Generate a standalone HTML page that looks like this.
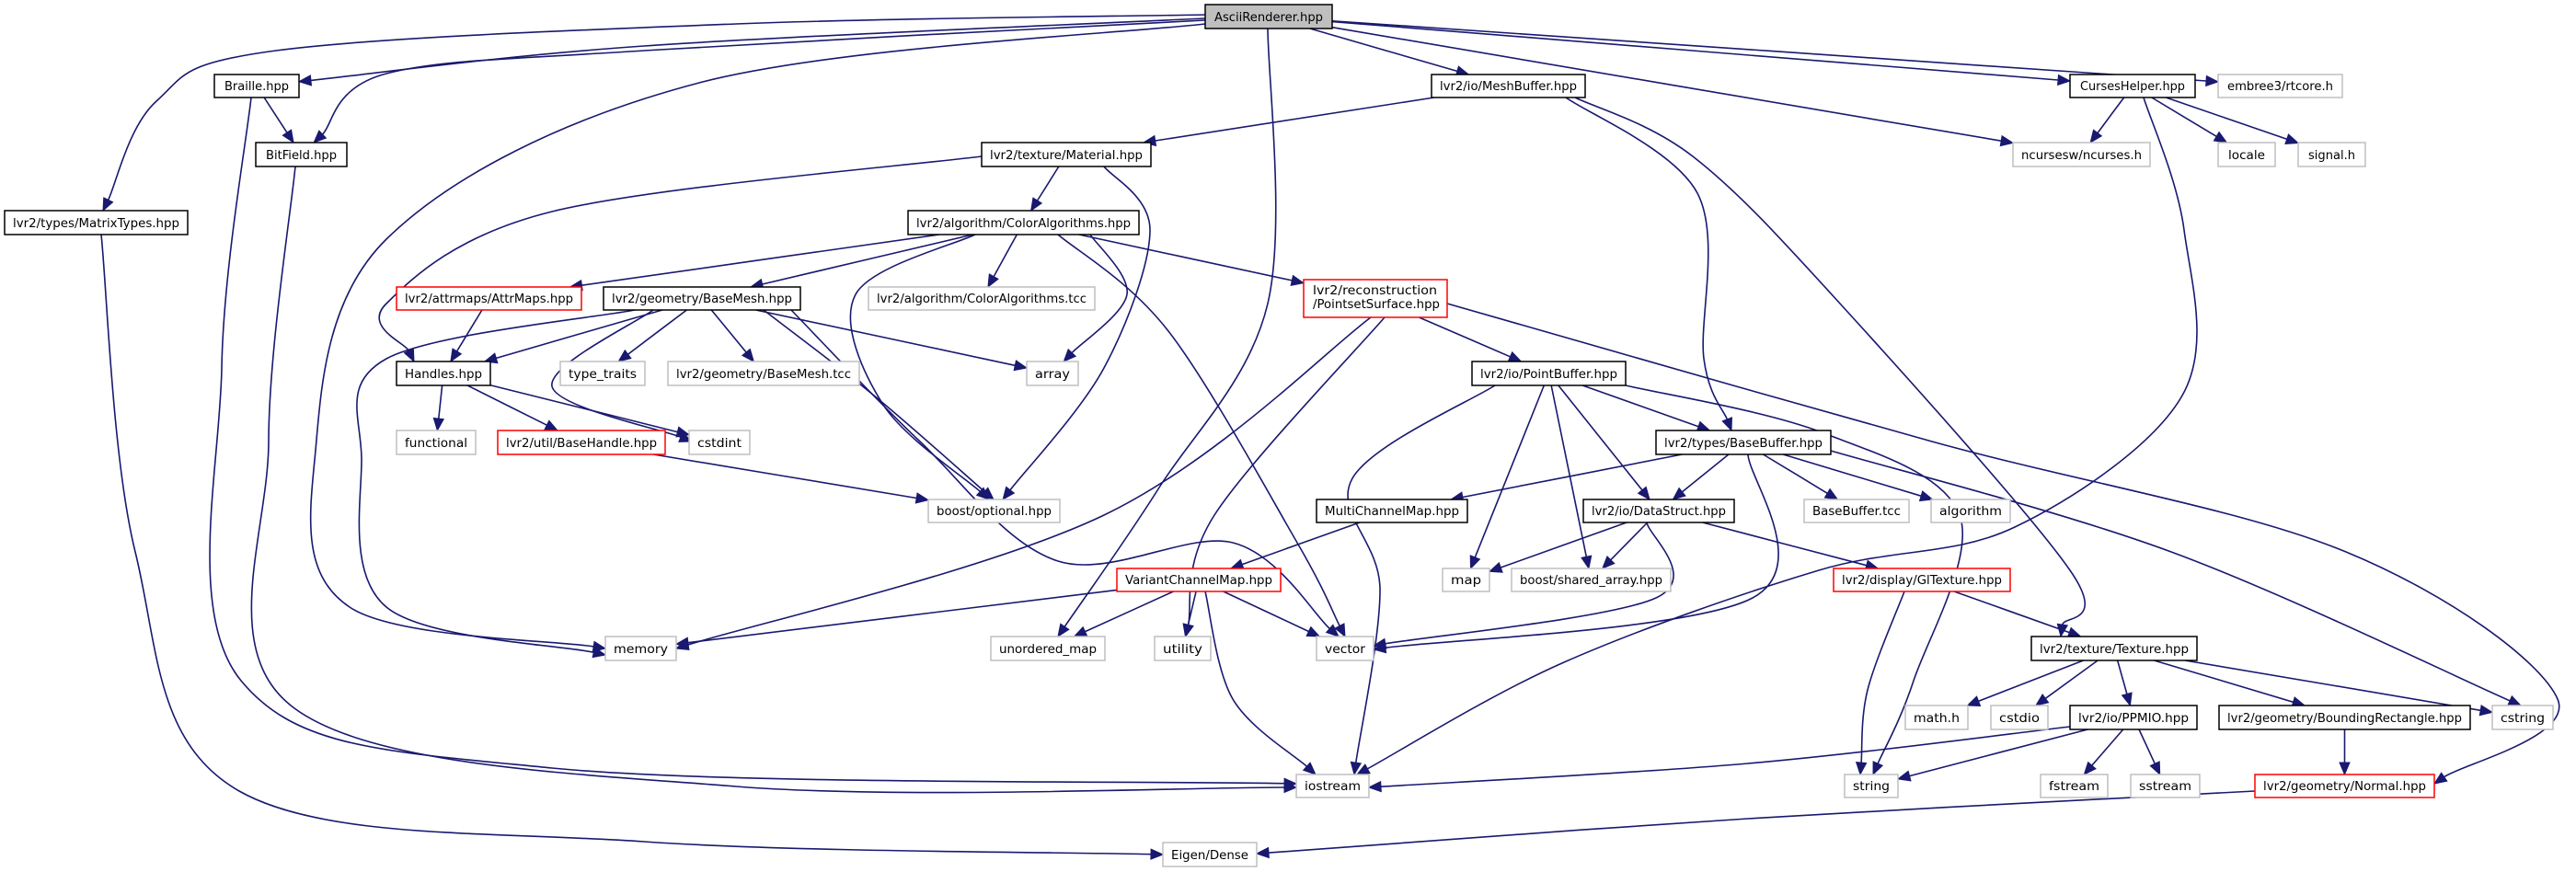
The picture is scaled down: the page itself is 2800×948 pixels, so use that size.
<!DOCTYPE html>
<html><head><meta charset="utf-8"><style>
html,body{margin:0;padding:0;background:#fff;}
svg{display:block;}
text{font-family:"DejaVu Sans","Liberation Sans",sans-serif;font-size:13px;fill:#000;}
</style></head><body>
<svg id="g" width="2800" height="948" viewBox="0 0 2800 948" xmlns="http://www.w3.org/2000/svg">
<g id="edges"></g>
<g id="nodes" stroke-width="1.5">
<rect x="1310" y="5" width="138" height="26" fill="#bfbfbf" stroke="#000"/><text x="1320" y="23" textLength="118" lengthAdjust="spacingAndGlyphs">AsciiRenderer.hpp</text>
<rect x="233" y="81" width="92" height="25" fill="#fff" stroke="#000"/><text x="244" y="98" textLength="70" lengthAdjust="spacingAndGlyphs">Braille.hpp</text>
<rect x="278" y="155" width="99" height="26" fill="#fff" stroke="#000"/><text x="289" y="173" textLength="77" lengthAdjust="spacingAndGlyphs">BitField.hpp</text>
<rect x="5" y="229" width="199" height="26" fill="#fff" stroke="#000"/><text x="14" y="247" textLength="181" lengthAdjust="spacingAndGlyphs">lvr2/types/MatrixTypes.hpp</text>
<rect x="1556" y="81" width="167" height="25" fill="#fff" stroke="#000"/><text x="1565" y="98" textLength="149" lengthAdjust="spacingAndGlyphs">lvr2/io/MeshBuffer.hpp</text>
<rect x="2250" y="81" width="136" height="25" fill="#fff" stroke="#000"/><text x="2261" y="98" textLength="114" lengthAdjust="spacingAndGlyphs">CursesHelper.hpp</text>
<rect x="2411" y="81" width="135" height="25" fill="#fff" stroke="#bfbfbf"/><text x="2421" y="98" textLength="115" lengthAdjust="spacingAndGlyphs">embree3/rtcore.h</text>
<rect x="1067" y="155" width="184" height="26" fill="#fff" stroke="#000"/><text x="1076" y="173" textLength="166" lengthAdjust="spacingAndGlyphs">lvr2/texture/Material.hpp</text>
<rect x="2188" y="155" width="149" height="26" fill="#fff" stroke="#bfbfbf"/><text x="2197" y="173" textLength="131" lengthAdjust="spacingAndGlyphs">ncursesw/ncurses.h</text>
<rect x="2411" y="155" width="62" height="26" fill="#fff" stroke="#bfbfbf"/><text x="2422" y="173" textLength="40" lengthAdjust="spacingAndGlyphs">locale</text>
<rect x="2498" y="155" width="73" height="26" fill="#fff" stroke="#bfbfbf"/><text x="2509" y="173" textLength="51" lengthAdjust="spacingAndGlyphs">signal.h</text>
<rect x="987" y="229" width="251" height="26" fill="#fff" stroke="#000"/><text x="996" y="247" textLength="233" lengthAdjust="spacingAndGlyphs">lvr2/algorithm/ColorAlgorithms.hpp</text>
<rect x="431" y="312" width="201" height="25" fill="#fff" stroke="#ff0000"/><text x="440" y="329" textLength="183" lengthAdjust="spacingAndGlyphs">lvr2/attrmaps/AttrMaps.hpp</text>
<rect x="656" y="312" width="214" height="25" fill="#fff" stroke="#000"/><text x="665" y="329" textLength="196" lengthAdjust="spacingAndGlyphs">lvr2/geometry/BaseMesh.hpp</text>
<rect x="944" y="312" width="246" height="25" fill="#fff" stroke="#bfbfbf"/><text x="953" y="329" textLength="228" lengthAdjust="spacingAndGlyphs">lvr2/algorithm/ColorAlgorithms.tcc</text>
<rect x="1417" y="304" width="156" height="41" fill="#fff" stroke="#ff0000"/><text x="1427" y="320" textLength="135" lengthAdjust="spacingAndGlyphs">lvr2/reconstruction</text><text x="1427" y="335" textLength="138" lengthAdjust="spacingAndGlyphs">/PointsetSurface.hpp</text>
<rect x="431" y="393" width="102" height="26" fill="#fff" stroke="#000"/><text x="440" y="411" textLength="84" lengthAdjust="spacingAndGlyphs">Handles.hpp</text>
<rect x="609" y="393" width="92" height="26" fill="#fff" stroke="#bfbfbf"/><text x="618" y="411" textLength="74" lengthAdjust="spacingAndGlyphs">type_traits</text>
<rect x="726" y="393" width="208" height="26" fill="#fff" stroke="#bfbfbf"/><text x="735" y="411" textLength="190" lengthAdjust="spacingAndGlyphs">lvr2/geometry/BaseMesh.tcc</text>
<rect x="1116" y="393" width="56" height="26" fill="#fff" stroke="#bfbfbf"/><text x="1125" y="411" textLength="38" lengthAdjust="spacingAndGlyphs">array</text>
<rect x="1600" y="393" width="167" height="26" fill="#fff" stroke="#000"/><text x="1609" y="411" textLength="149" lengthAdjust="spacingAndGlyphs">lvr2/io/PointBuffer.hpp</text>
<rect x="431" y="468" width="86" height="26" fill="#fff" stroke="#bfbfbf"/><text x="440" y="486" textLength="68" lengthAdjust="spacingAndGlyphs">functional</text>
<rect x="541" y="468" width="182" height="26" fill="#fff" stroke="#ff0000"/><text x="550" y="486" textLength="164" lengthAdjust="spacingAndGlyphs">lvr2/util/BaseHandle.hpp</text>
<rect x="749" y="468" width="66" height="26" fill="#fff" stroke="#bfbfbf"/><text x="758" y="486" textLength="48" lengthAdjust="spacingAndGlyphs">cstdint</text>
<rect x="1800" y="468" width="190" height="26" fill="#fff" stroke="#000"/><text x="1809" y="486" textLength="172" lengthAdjust="spacingAndGlyphs">lvr2/types/BaseBuffer.hpp</text>
<rect x="1009" y="543" width="143" height="25" fill="#fff" stroke="#bfbfbf"/><text x="1018" y="560" textLength="125" lengthAdjust="spacingAndGlyphs">boost/optional.hpp</text>
<rect x="1431" y="543" width="164" height="25" fill="#fff" stroke="#000"/><text x="1440" y="560" textLength="146" lengthAdjust="spacingAndGlyphs">MultiChannelMap.hpp</text>
<rect x="1721" y="543" width="164" height="25" fill="#fff" stroke="#000"/><text x="1730" y="560" textLength="146" lengthAdjust="spacingAndGlyphs">lvr2/io/DataStruct.hpp</text>
<rect x="1961" y="543" width="114" height="25" fill="#fff" stroke="#bfbfbf"/><text x="1970" y="560" textLength="96" lengthAdjust="spacingAndGlyphs">BaseBuffer.tcc</text>
<rect x="2099" y="543" width="86" height="25" fill="#fff" stroke="#bfbfbf"/><text x="2108" y="560" textLength="68" lengthAdjust="spacingAndGlyphs">algorithm</text>
<rect x="1214" y="618" width="178" height="25" fill="#fff" stroke="#ff0000"/><text x="1223" y="635" textLength="160" lengthAdjust="spacingAndGlyphs">VariantChannelMap.hpp</text>
<rect x="1568" y="618" width="51" height="25" fill="#fff" stroke="#bfbfbf"/><text x="1577" y="635" textLength="33" lengthAdjust="spacingAndGlyphs">map</text>
<rect x="1643" y="618" width="173" height="25" fill="#fff" stroke="#bfbfbf"/><text x="1652" y="635" textLength="155" lengthAdjust="spacingAndGlyphs">boost/shared_array.hpp</text>
<rect x="1993" y="618" width="192" height="25" fill="#fff" stroke="#ff0000"/><text x="2002" y="635" textLength="174" lengthAdjust="spacingAndGlyphs">lvr2/display/GlTexture.hpp</text>
<rect x="658" y="692" width="77" height="26" fill="#fff" stroke="#bfbfbf"/><text x="667" y="710" textLength="59" lengthAdjust="spacingAndGlyphs">memory</text>
<rect x="1077" y="692" width="124" height="26" fill="#fff" stroke="#bfbfbf"/><text x="1086" y="710" textLength="106" lengthAdjust="spacingAndGlyphs">unordered_map</text>
<rect x="1255" y="692" width="61" height="26" fill="#fff" stroke="#bfbfbf"/><text x="1264" y="710" textLength="43" lengthAdjust="spacingAndGlyphs">utility</text>
<rect x="1431" y="692" width="62" height="26" fill="#fff" stroke="#bfbfbf"/><text x="1440" y="710" textLength="44" lengthAdjust="spacingAndGlyphs">vector</text>
<rect x="2208" y="692" width="180" height="26" fill="#fff" stroke="#000"/><text x="2217" y="710" textLength="162" lengthAdjust="spacingAndGlyphs">lvr2/texture/Texture.hpp</text>
<rect x="2071" y="767" width="68" height="26" fill="#fff" stroke="#bfbfbf"/><text x="2080" y="785" textLength="50" lengthAdjust="spacingAndGlyphs">math.h</text>
<rect x="2164" y="767" width="62" height="26" fill="#fff" stroke="#bfbfbf"/><text x="2173" y="785" textLength="44" lengthAdjust="spacingAndGlyphs">cstdio</text>
<rect x="2250" y="767" width="138" height="26" fill="#fff" stroke="#000"/><text x="2259" y="785" textLength="120" lengthAdjust="spacingAndGlyphs">lvr2/io/PPMIO.hpp</text>
<rect x="2412" y="767" width="273" height="26" fill="#fff" stroke="#000"/><text x="2421" y="785" textLength="255" lengthAdjust="spacingAndGlyphs">lvr2/geometry/BoundingRectangle.hpp</text>
<rect x="2709" y="767" width="66" height="26" fill="#fff" stroke="#bfbfbf"/><text x="2718" y="785" textLength="48" lengthAdjust="spacingAndGlyphs">cstring</text>
<rect x="1409" y="842" width="79" height="25" fill="#fff" stroke="#bfbfbf"/><text x="1418" y="859" textLength="61" lengthAdjust="spacingAndGlyphs">iostream</text>
<rect x="2005" y="842" width="58" height="25" fill="#fff" stroke="#bfbfbf"/><text x="2014" y="859" textLength="40" lengthAdjust="spacingAndGlyphs">string</text>
<rect x="2218" y="842" width="73" height="25" fill="#fff" stroke="#bfbfbf"/><text x="2227" y="859" textLength="55" lengthAdjust="spacingAndGlyphs">fstream</text>
<rect x="2316" y="842" width="75" height="25" fill="#fff" stroke="#bfbfbf"/><text x="2325" y="859" textLength="57" lengthAdjust="spacingAndGlyphs">sstream</text>
<rect x="2451" y="842" width="195" height="25" fill="#fff" stroke="#ff0000"/><text x="2460" y="859" textLength="177" lengthAdjust="spacingAndGlyphs">lvr2/geometry/Normal.hpp</text>
<rect x="1264" y="916" width="102" height="26" fill="#fff" stroke="#bfbfbf"/><text x="1273" y="934" textLength="84" lengthAdjust="spacingAndGlyphs">Eigen/Dense</text>
</g>
</svg>
<script>
var N={
A:[1310,1448,5,31],Br:[233,325,81,106],BF:[278,377,155,181],MT:[5,204,229,255],MB:[1556,1723,81,106],
CH:[2250,2386,81,106],EM:[2411,2546,81,106],MA:[1067,1251,155,181],NC:[2188,2337,155,181],LO:[2411,2473,155,181],
SI:[2498,2571,155,181],CA:[987,1238,229,255],AM:[431,632,312,337],BM:[656,870,312,337],CT:[944,1190,312,337],
PS:[1417,1573,304,345],HA:[431,533,393,419],TT:[609,701,393,419],BT:[726,934,393,419],AR:[1116,1172,393,419],
PB:[1600,1767,393,419],FU:[431,517,468,494],BH:[541,723,468,494],CI:[749,815,468,494],BB:[1800,1990,468,494],
BO:[1009,1152,543,568],MC:[1431,1595,543,568],DS:[1721,1885,543,568],BTC:[1961,2075,543,568],AL:[2099,2185,543,568],
VC:[1214,1392,618,643],MP:[1568,1619,618,643],SA:[1643,1816,618,643],GT:[1993,2185,618,643],ME:[658,735,692,718],
UM:[1077,1201,692,718],UT:[1255,1316,692,718],VE:[1431,1493,692,718],TX:[2208,2388,692,718],MH:[2071,2139,767,793],
CS:[2164,2226,767,793],PP:[2250,2388,767,793],BR:[2412,2685,767,793],CSTR:[2709,2775,767,793],IO:[1409,1488,842,867],
ST:[2005,2063,842,867],FS:[2218,2291,842,867],SS:[2316,2391,842,867],NO:[2451,2646,842,867],EI:[1264,1366,916,942]};
var E=[
['A','Br',[[700,50]],[1310,20]],['A','BF',[[700,55],[420,80]],[1310,22]],
['A','MT',[[800,26],[300,55],[170,110]],[1310,16],[112,229]],
['A','ME',[[760,90],[420,260],[342,500],[380,660]],[1310,26],[658,705]],
['A','UM',[[1378,330],[1260,530]],[1378,31],[1150,692]],['A','MB'],['A','CH'],['A','EM'],['A','NC'],
['Br','BF'],['Br','IO',[[241,400],[262,740],[600,835]],[273,106],[1409,852]],
['BF','IO',[[292,480],[320,770],[800,855]],[321,181],[1409,856]],
['MT','EI',[[147,600],[260,860],[700,915]],[110,255],[1264,929]],
['MB','MA'],['MB','BB',[[1845,210],[1852,390]],[1702,106],[1882,468]],
['MB','TX',[[1840,170],[2000,330],[2250,620]],[1712,106],[2240,692]],
['CH','NC'],['CH','LO'],['CH','SI'],
['CH','IO',[[2374,250],[2372,430],[2190,573],[1977,620],[1700,720]],[2330,106],[1475,842]],
['MA','CA'],['MA','HA',[[600,230],[420,330]],[1067,170],[450,393]],['MA','BO',[[1250,250],[1200,400]],[1200,181]],
['CA','AM'],['CA','BM'],['CA','CT'],['CA','PS'],['CA','AR',[[1225,320]],[1185,255]],
['CA','BO',[[930,320],[960,440]],[1060,255],[1075,543]],['CA','VE',[[1270,360],[1410,590]],[1150,255],[1462,692]],
['AM','HA'],['BM','HA'],['BM','TT'],['BM','BT'],['BM','AR'],['BM','BO',[[950,430]],[830,337],[1080,543]],
['BM','CI',[[600,420]],[710,337],[752,480]],['BM','ME',[[420,390],[393,500],[420,660]],[690,337],[658,712]],
['BM','VE',[[1000,480],[1150,610],[1340,590]],[860,337],[1455,692]],
['PS','PB'],['PS','ME',[[1200,560]],[1490,345],[735,705]],['PS','UT',[[1320,560]],[1505,345]],
['PS','NO',[[2100,480],[2550,600],[2780,760]],[1573,330],[2646,852]],
['PB','BB'],['PB','DS'],['PB','MP'],['PB','SA'],
['PB','ST',[[1980,470],[2130,560],[2080,740]],[1767,419],[2036,842]],
['PB','IO',[[1470,520],[1500,640]],[1625,419],[1472,842]],
['BB','MC'],['BB','DS'],['BB','BTC'],['BB','AL'],['BB','VE',[[1905,650]],[1900,494],[1493,706]],
['BB','CSTR',[[2360,600]],[1990,490],[2740,767]],
['DS','MP'],['DS','SA'],['DS','GT'],['DS','VE',[[1800,650]],[1790,568],[1493,702]],
['MC','VC'],['VC','ME'],['VC','UM'],['VC','UT'],['VC','VE'],['VC','IO',[[1340,760]],[1310,643],[1430,842]],
['GT','TX'],['GT','ST',[[2030,750]],[2070,643],[2022,842]],
['HA','FU'],['HA','BH'],['HA','CI'],['BH','BO'],
['TX','MH'],['TX','CS'],['TX','PP'],['TX','BR'],['TX','CSTR'],
['PP','IO',[[1900,830]],[2250,790],[1488,856]],['PP','ST'],['PP','FS'],['PP','SS'],
['BR','NO'],['NO','EI',[[1900,890]],[2451,860],[1366,928]]
];
function ctr(b){return [(b[0]+b[1])/2,(b[2]+b[3])/2];}
function clip(b,p){var c=ctr(b),dx=p[0]-c[0],dy=p[1]-c[1];var hw=(b[1]-b[0])/2,hh=(b[3]-b[2])/2;
 var t=Math.min(dx?hw/Math.abs(dx):1e9,dy?hh/Math.abs(dy):1e9);return [c[0]+dx*t,c[1]+dy*t];}
var out='';
E.forEach(function(e){var s=N[e[0]],t=N[e[1]],w=e[2]||[];
 var p0=e[3]||clip(s,w.length?w[0]:ctr(t));
 var tip=e[4]||clip(t,w.length?w[w.length-1]:p0);
 var prev=w.length?w[w.length-1]:p0;
 var dx=tip[0]-prev[0],dy=tip[1]-prev[1],L=Math.hypot(dx,dy)||1;dx/=L;dy/=L;
 var AL=13,end=[tip[0]-dx*AL,tip[1]-dy*AL];
 var pts=[p0].concat(w).concat([end]);var d='M'+pts[0][0]+','+pts[0][1];
 for(var i=0;i<pts.length-1;i++){var a=pts[i-1]||pts[i],b=pts[i],c=pts[i+1],n=pts[i+2]||c;
  var c1=[b[0]+(c[0]-a[0])/6,b[1]+(c[1]-a[1])/6],c2=[c[0]-(n[0]-b[0])/6,c[1]-(n[1]-b[1])/6];
  d+=' C'+c1[0].toFixed(1)+','+c1[1].toFixed(1)+' '+c2[0].toFixed(1)+','+c2[1].toFixed(1)+' '+c[0].toFixed(1)+','+c[1].toFixed(1);}
 out+='<path d="'+d+'" fill="none" stroke="#191970" stroke-width="1.6"/>';
 var px=-dy,py=dx,hw=5.5;
 out+='<polygon points="'+tip[0]+','+tip[1]+' '+(end[0]+px*hw)+','+(end[1]+py*hw)+' '+(end[0]-px*hw)+','+(end[1]-py*hw)+'" fill="#191970" stroke="#191970"/>';
});
document.getElementById('edges').innerHTML=out;
</script>
</body></html>
